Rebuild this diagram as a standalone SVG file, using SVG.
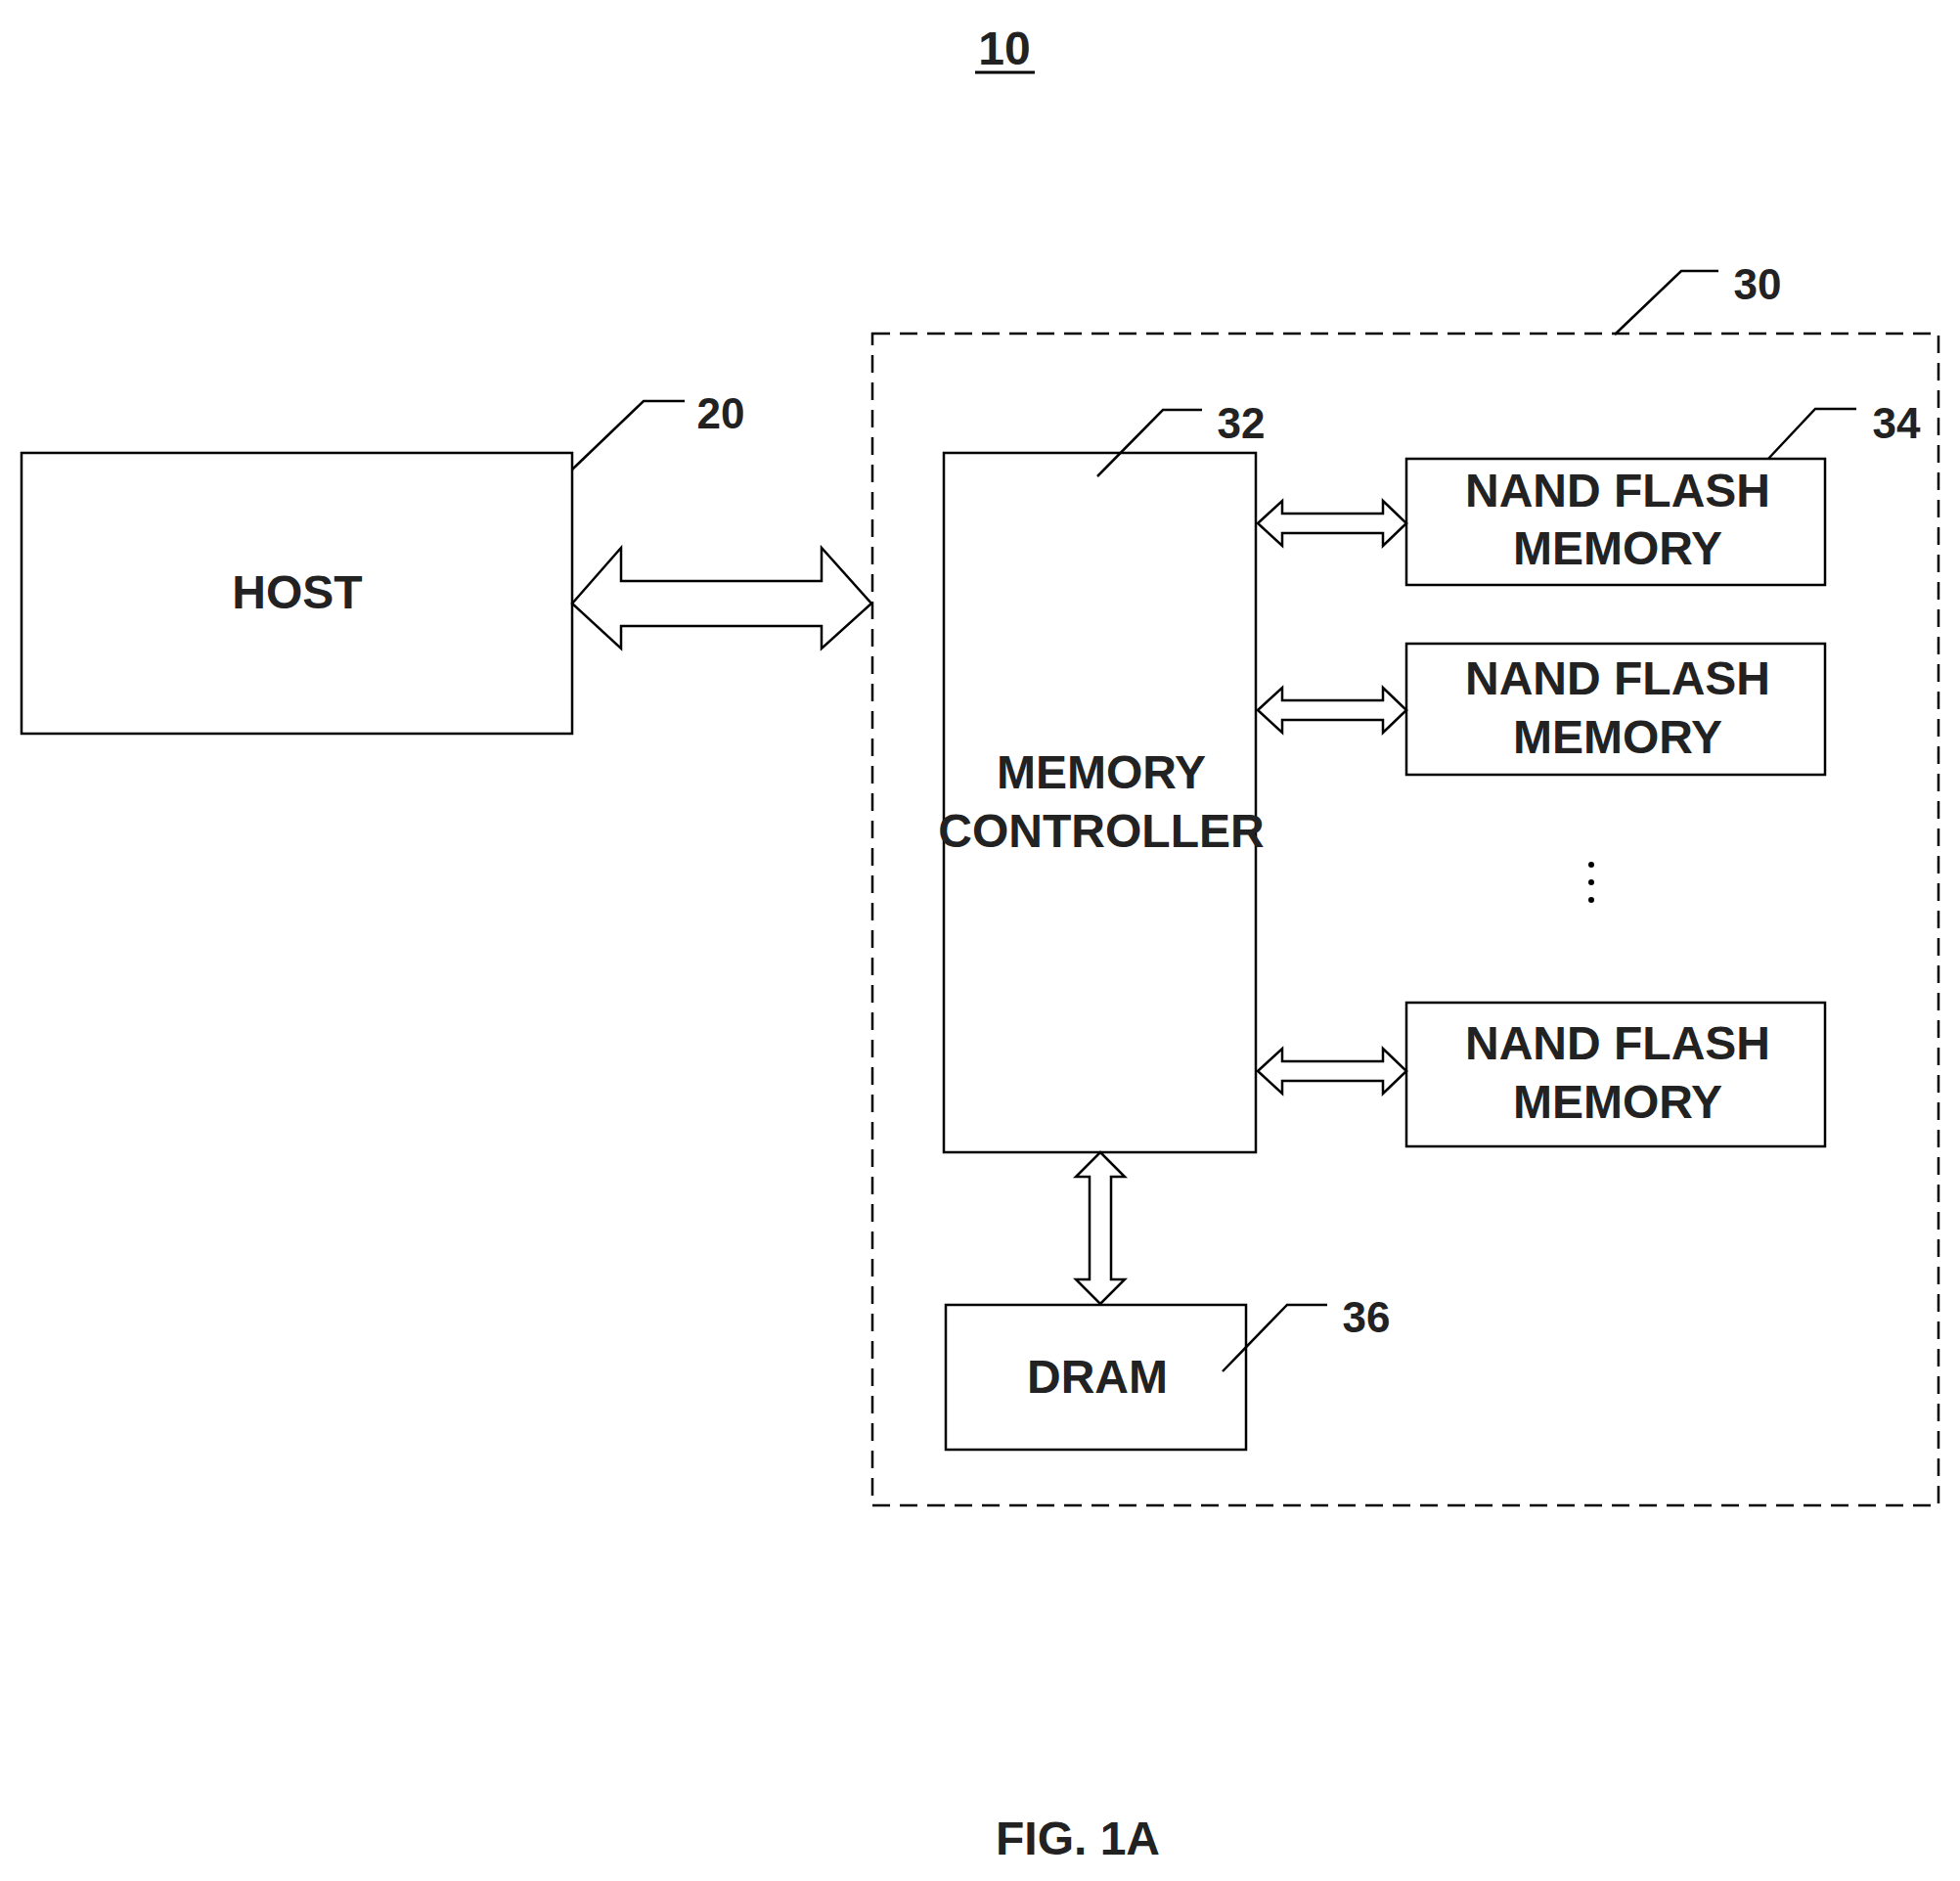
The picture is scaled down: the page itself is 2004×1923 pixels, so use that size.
<svg xmlns="http://www.w3.org/2000/svg" width="2004" height="1923" viewBox="0 0 2004 1923">
<style>
.b{fill:#fff;stroke:#000;stroke-width:2.5}
.t{font-family:"Liberation Sans Narrow","Liberation Sans",Arial,sans-serif;font-weight:bold;font-size:48px;text-anchor:middle;fill:#222}
.n{font-family:"Liberation Sans Narrow","Liberation Sans",Arial,sans-serif;font-weight:bold;font-size:44px;text-anchor:middle;fill:#222}
.l{fill:none;stroke:#000;stroke-width:2.5}
.a{fill:#fff;stroke:#000;stroke-width:2.5;stroke-linejoin:miter}
</style>
<rect width="2004" height="1923" fill="#fff"/>
<g id="title"><text class="t" x="1027" y="66" font-size="52">10</text><line x1="997" y1="74" x2="1058" y2="74" stroke="#000" stroke-width="3"/></g>
<g id="n30"><rect x="892" y="341" width="1090" height="1198" fill="none" stroke="#000" stroke-width="2.5" stroke-dasharray="18,10"/>
<text class="n" x="1797" y="306">30</text></g>
<g id="host"><rect class="b" x="22" y="463" width="563" height="287"/><text class="t" x="304" y="622">HOST</text><text class="n" x="737" y="438">20</text></g>
<g id="mc"><rect class="b" x="965" y="463" width="319" height="715"/><text class="t" x="1126" y="806">MEMORY</text><text class="t" x="1126" y="866">CONTROLLER</text><text class="n" x="1269" y="448">32</text></g>
<g id="nand1"><rect class="b" x="1438" y="469" width="428" height="129"/><text class="t" x="1654" y="518">NAND FLASH</text><text class="t" x="1654" y="577">MEMORY</text><text class="n" x="1939" y="448">34</text></g>
<g id="nand2"><rect class="b" x="1438" y="658" width="428" height="134"/><text class="t" x="1654" y="710">NAND FLASH</text><text class="t" x="1654" y="770">MEMORY</text></g>
<g id="dots"><circle cx="1627" cy="884" r="3"/><circle cx="1627" cy="902" r="3"/><circle cx="1627" cy="920" r="3"/></g>
<g id="nand3"><rect class="b" x="1438" y="1025" width="428" height="147"/><text class="t" x="1654" y="1083">NAND FLASH</text><text class="t" x="1654" y="1143">MEMORY</text></g>
<g id="dram"><rect class="b" x="967" y="1334" width="307" height="148"/><text class="t" x="1122" y="1424">DRAM</text><text class="n" x="1397" y="1362">36</text></g>
<g id="connectors">
<polyline class="l" points="1651,342 1719,277 1757,277"/>
<polyline class="l" points="585,480 658,410 700,410"/>
<polyline class="l" points="1122,487 1189,419 1229,419"/>
<polyline class="l" points="1808,469 1856,418 1898,418"/>
<polyline class="l" points="1250,1402 1316,1334 1357,1334"/>
<polygon class="a" points="585,617 635,560 635,594 840,594 840,560 891,617 840,663 840,640 635,640 635,663"/>
<polygon class="a" points="1286,535 1311,512 1311,525 1414,525 1414,512 1438,535 1414,558 1414,545 1311,545 1311,558"/>
<polygon class="a" points="1286,726 1311,703 1311,716 1414,716 1414,703 1438,726 1414,749 1414,736 1311,736 1311,749"/>
<polygon class="a" points="1286,1095 1311,1072 1311,1085 1414,1085 1414,1072 1438,1095 1414,1118 1414,1105 1311,1105 1311,1118"/>
<polygon class="a" points="1125,1178 1150,1203 1136,1203 1136,1308 1150,1308 1125,1333 1100,1308 1114,1308 1114,1203 1100,1203"/>
</g>
<g id="fig"><text class="t" x="1102" y="1896" font-size="66">FIG. 1A</text></g>
</svg>
